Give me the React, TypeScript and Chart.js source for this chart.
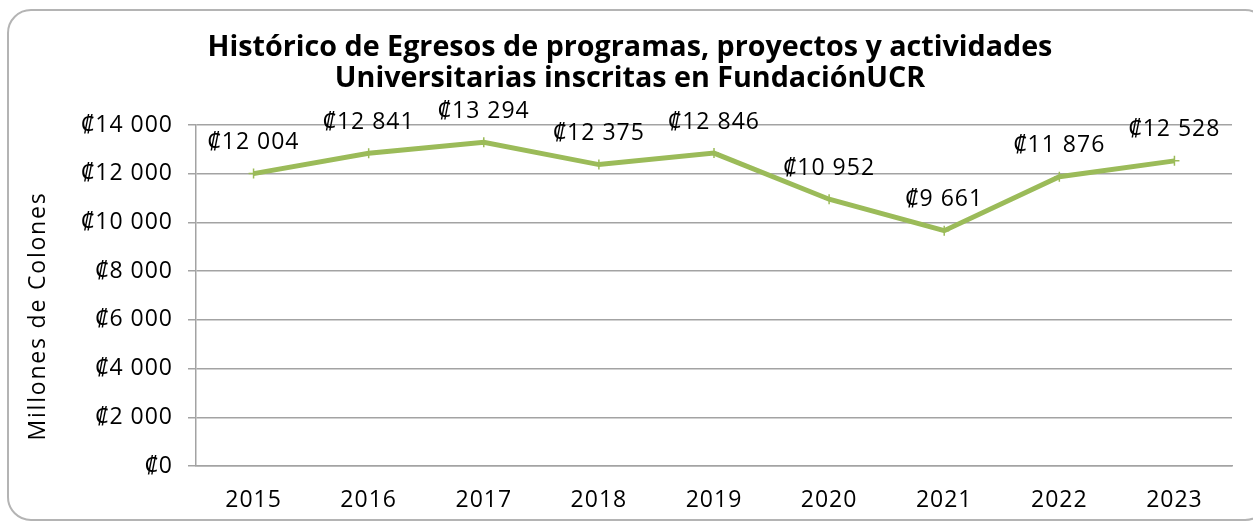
import React, { useEffect, useRef } from "react";
import { Chart, registerables } from "chart.js";

Chart.register(...registerables);

const years = ["2015", "2016", "2017", "2018", "2019", "2020", "2021", "2022", "2023"];
const egresos = [12004, 12841, 13294, 12375, 12846, 10952, 9661, 11876, 12528];
const titleLines = [
  "Histórico de Egresos de programas, proyectos y actividades",
  "Universitarias inscritas en FundaciónUCR",
];
const yAxisTitle = "Millones de Colones";

const FONT = "'Open Sans', 'Noto Sans', sans-serif";
const LINE_COLOR = "#9BBB59";
const GRID_COLOR = "#a3a3a3";
const TEXT_SIZE = 23;

const fmt = (v: number) => {
  const s = Math.round(v).toString();
  const withSpace = s.replace(/\B(?=(\d{3})+(?!\d))/g, " ");
  return "\u20A1" + withSpace;
};

const overlayPlugin = {
  id: "overlay",
  beforeDraw(chart: any) {
    const ctx = chart.ctx;
    ctx.letterSpacing = "1px";
  },
  afterDraw(chart: any) {
    const ctx = chart.ctx;
    ctx.save();
    // title
    ctx.letterSpacing = "0px";
    ctx.fillStyle = "#000";
    ctx.textAlign = "center";
    ctx.textBaseline = "middle";
    const targetW = 845;
    let size = 24;
    ctx.font = `bold ${size}px ${FONT}`;
    const w = ctx.measureText(titleLines[0]).width;
    size = Math.max(16, Math.min(30, (size * targetW) / w));
    ctx.font = `bold ${size}px ${FONT}`;
    ctx.fillText(titleLines[0], 630, 48);
    ctx.fillText(titleLines[1], 630, 79);

    // y axis title
    ctx.font = `${TEXT_SIZE}px ${FONT}`;
    ctx.letterSpacing = "1.8px";
    ctx.translate(38, 316);
    ctx.rotate(-Math.PI / 2);
    ctx.fillText(yAxisTitle, 0, 0);
    ctx.setTransform(1, 0, 0, 1, 0, 0);

    // data labels
    const meta = chart.getDatasetMeta(0);
    ctx.letterSpacing = "1px";
    ctx.font = `${TEXT_SIZE}px ${FONT}`;
    ctx.textAlign = "center";
    ctx.textBaseline = "middle";
    meta.data.forEach((pt: any, i: number) => {
      ctx.fillText(fmt(egresos[i]), pt.x, pt.y - 31);
    });
    ctx.restore();
  },
};

export default function App() {
  const ref = useRef<HTMLCanvasElement>(null);
  useEffect(() => {
    if (!ref.current) return;
    const chart = new Chart(ref.current, {
      type: "line",
      data: {
        labels: years,
        datasets: [
          {
            data: egresos,
            borderColor: LINE_COLOR,
            backgroundColor: LINE_COLOR,
            borderWidth: 5,
            tension: 0,
            pointStyle: "cross",
            pointRadius: 5,
            pointBorderWidth: 1.5,
            pointBorderColor: LINE_COLOR,
          },
        ],
      },
      options: {
        animation: false,
        responsive: false,
        layout: { padding: { left: 0, top: 125, right: 21, bottom: 0 } },
        plugins: {
          legend: { display: false },
          title: { display: false },
          tooltip: { enabled: false },
        },
        scales: {
          x: {
            offset: true,
            grid: { display: false, drawTicks: false },
            border: { display: true, color: GRID_COLOR, width: 1.5 },
            ticks: { color: "#000", font: { family: FONT, size: TEXT_SIZE }, padding: 21 },
            afterFit: (s: any) => {
              s.height = 58;
            },
          },
          y: {
            min: 0,
            max: 14000,
            ticks: {
              stepSize: 2000,
              color: "#000",
              font: { family: FONT, size: TEXT_SIZE },
              padding: 15,
              callback: (v: any) => fmt(Number(v)),
            },
            grid: { color: GRID_COLOR, lineWidth: 1.5, tickLength: 8, drawTicks: true },
            border: { display: true, color: GRID_COLOR, width: 1.5 },
            afterFit: (s: any) => {
              s.width = 196;
            },
          },
        },
      },
      plugins: [overlayPlugin],
    });
    return () => chart.destroy();
  }, []);

  return (
    <div style={{ position: "fixed", left: 0, top: 0, width: 1253, height: 524, background: "#fff", overflow: "hidden" }}>
      <div
        style={{
          position: "absolute",
          left: 7,
          top: 9,
          width: 1262,
          height: 512,
          border: "2px solid #b4b4b4",
          borderRadius: 24,
          boxSizing: "border-box",
        }}
      />
      <canvas ref={ref} width={1253} height={524} style={{ position: "absolute", left: 0, top: 0 }} />
    </div>
  );
}
